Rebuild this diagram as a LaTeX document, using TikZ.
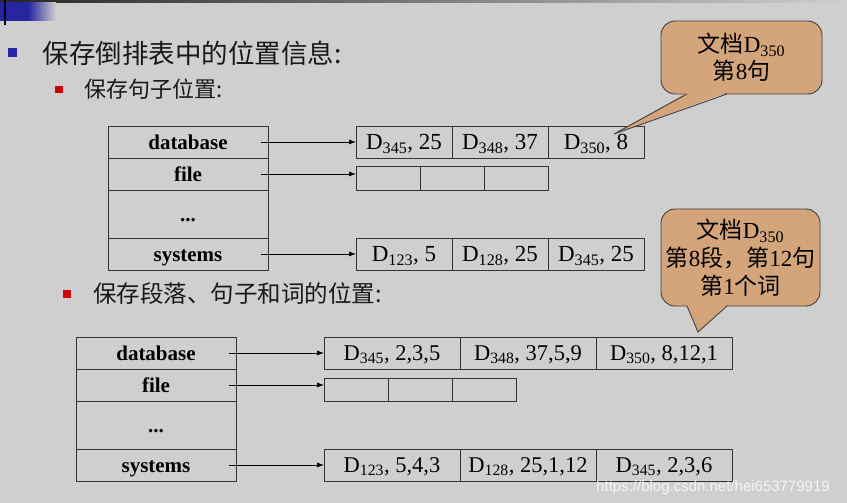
\documentclass[tikz,border=0pt]{standalone}
\usepackage{fontspec}
\setmainfont{Liberation Serif}
\newfontfamily\cjk{Noto Sans CJK SC}
\newfontfamily\wmfont{Liberation Sans}
\usetikzlibrary{arrows.meta, positioning}
\definecolor{slidebg}{RGB}{207,207,207}
\definecolor{navy}{RGB}{38,38,160}
\definecolor{bulred}{RGB}{210,0,0}
\definecolor{calloutfill}{RGB}{212,164,122}

\begin{document}
\begin{tikzpicture}[x=1pt, y=-1pt,
    lab/.style={draw=black!80, line width=0.9pt, minimum width=160pt, minimum height=32pt,
        inner sep=0pt, outer sep=0pt, anchor=north west, text height=17pt, text depth=2pt,
        font=\fontsize{21}{24}\selectfont\bfseries},
    cell/.style={draw=black!80, line width=0.9pt, minimum height=32pt, inner sep=0pt,
        outer sep=0pt, anchor=north west, text height=17pt, text depth=2pt},
    ptr/.style={-{Latex[length=7pt, width=5pt]}, line width=0.7pt},
    callout/.style={draw=black!75, fill=calloutfill, line width=0.9pt, rounded corners=14pt,
        inner sep=0pt, outer sep=0pt, align=center},
    txt/.style={inner sep=0pt, anchor=west, text=black!90},
    bul/.style={inner sep=0pt, outer sep=0pt}
]
    % slide background
    \fill[slidebg] (0,0) rectangle (847,503);
    \useasboundingbox (0,0) rectangle (847,503);
    \shade[left color=black!85, right color=slidebg] (0,0) rectangle (847,2.5);
    \fill[navy] (0,2.5) rectangle (28,21);
    \shade[left color=navy, right color=slidebg] (28,2.5) rectangle (56,21);
    \draw[line width=1.5pt] (5,0) -- (5,25);

    % bullet lines
    \node[bul, fill=navy, minimum size=9pt] (b1) at (12,53) {};
    \node[txt, font=\fontsize{26.5}{30}\selectfont, right=26pt of b1] (h1) {\cjk 保存倒排表中的位置信息:};
    \node[bul, fill=bulred, minimum size=7.5pt] (b2) at (59,89.5) {};
    \node[txt, font=\fontsize{22}{26}\selectfont, right=22pt of b2] (h2) {\cjk 保存句子位置:};
    \node[bul, fill=bulred, minimum size=8pt] (b3) at (66.5,293.5) {};
    \node[txt, font=\fontsize{23.5}{27}\selectfont, right=22.5pt of b3] (h3) {\cjk 保存段落、句子和词的位置:};

    % sentence positions
    \node[lab] (tdb) at (108,126) {database};
    \node[lab] (tfile) at (108,158) {file};
    \node[lab, minimum height=48pt] (tdots) at (108,190) {...};
    \node[lab] (tsys) at (108,238) {systems};
    \foreach \t [count=\i from 0] in {{D\textsubscript{345}, 25}, {D\textsubscript{348}, 37}, {D\textsubscript{350}, 8}}
        \node[cell, minimum width=96pt, font=\fontsize{23}{26}\selectfont] (td\i) at ({356+96*\i},126) {\t};
    \foreach \i in {0,1,2}
        \node[cell, minimum width=64pt, minimum height=24pt] (tf\i) at ({356+64*\i},166) {};
    \foreach \t [count=\i from 0] in {{D\textsubscript{123}, 5}, {D\textsubscript{128}, 25}, {D\textsubscript{345}, 25}}
        \node[cell, minimum width=96pt, font=\fontsize{23}{26}\selectfont] (ts\i) at ({356+96*\i},238) {\t};
    \draw[ptr] ([xshift=-7pt]tdb.east) -- (tdb -| td0.west);
    \draw[ptr] ([xshift=-7pt]tfile.east) -- (tfile -| tf0.west);
    \draw[ptr] ([xshift=-7pt]tsys.east) -- (tsys -| ts0.west);

    % paragraph, sentence and word positions
    \node[lab] (bdb) at (76,337) {database};
    \node[lab] (bfile) at (76,369) {file};
    \node[lab, minimum height=48pt] (bdots) at (76,401) {...};
    \node[lab] (bsys) at (76,449) {systems};
    \foreach \t [count=\i from 0] in {{D\textsubscript{345}, 2,3,5}, {D\textsubscript{348}, 37,5,9}, {D\textsubscript{350}, 8,12,1}}
        \node[cell, minimum width=136pt, font=\fontsize{22.5}{25}\selectfont] (bd\i) at ({324+136*\i},337) {\t};
    \foreach \i in {0,1,2}
        \node[cell, minimum width=64pt, minimum height=23pt] (bf\i) at ({324+64*\i},378) {};
    \foreach \t [count=\i from 0] in {{D\textsubscript{123}, 5,4,3}, {D\textsubscript{128}, 25,1,12}, {D\textsubscript{345}, 2,3,6}}
        \node[cell, minimum width=136pt, font=\fontsize{22.5}{25}\selectfont] (bs\i) at ({324+136*\i},449) {\t};
    \draw[ptr] ([xshift=-7pt]bdb.east) -- (bdb -| bd0.west);
    \draw[ptr] ([xshift=-7pt]bfile.east) -- (bfile -| bf0.west);
    \draw[ptr] ([xshift=-7pt]bsys.east) -- (bsys -| bs0.west);

    % callouts
    \coordinate (tip1) at (614,134);
    \node[callout, minimum width=161pt, minimum height=73pt, font=\fontsize{23}{27}\selectfont] (c1) at (741.5,57.5)
        {{\cjk 文档}D\textsubscript{350}\\{\cjk 第}8{\cjk 句}};
    \fill[calloutfill] ([xshift=-54.5pt,yshift=1.5pt]c1.south) -- (tip1) -- ([xshift=-14.5pt,yshift=1.5pt]c1.south) -- cycle;
    \draw[black!75, line width=0.9pt] ([xshift=-54.5pt]c1.south) -- (tip1) -- ([xshift=-14.5pt]c1.south);

    \coordinate (tip2) at (698,332);
    \node[callout, minimum width=159pt, minimum height=97pt, font=\fontsize{23}{28}\selectfont] (c2) at (740.5,257.5)
        {{\cjk 文档}D\textsubscript{350}\\{\cjk 第}8{\cjk 段，第}12{\cjk 句}\\{\cjk 第}1{\cjk 个词}};
    \fill[calloutfill] ([xshift=-53.5pt,yshift=1.5pt]c2.south) -- (tip2) -- ([xshift=-13.5pt,yshift=1.5pt]c2.south) -- cycle;
    \draw[black!75, line width=0.9pt] ([xshift=-53.5pt]c2.south) -- (tip2) -- ([xshift=-13.5pt]c2.south);

    % watermark
    \node[inner sep=0pt, text=white, opacity=0.8, font=\wmfont\fontsize{15}{18}\selectfont] (wm) at (713,488)
        {https://blog.csdn.net/hei653779919};
\end{tikzpicture}
\end{document}
